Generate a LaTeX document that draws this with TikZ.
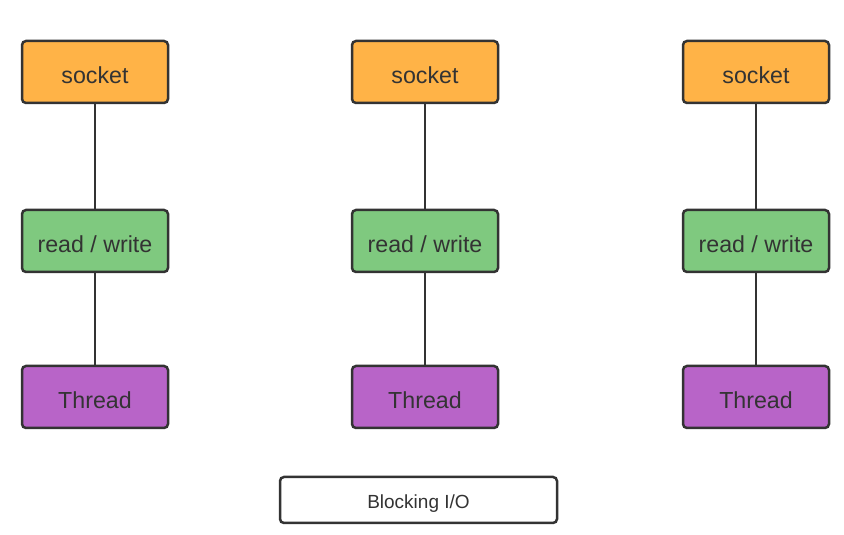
\documentclass[tikz,border=0pt]{standalone}
\usepackage{fontspec}
\setmainfont{Liberation Sans}
\usetikzlibrary{positioning}
\definecolor{sockorange}{HTML}{FFB347}
\definecolor{rwgreen}{HTML}{7FC97F}
\definecolor{thpurple}{HTML}{B864C8}
\definecolor{edgegray}{HTML}{333333}

\begin{document}
\begin{tikzpicture}[
    x=1pt, y=1pt,
    box/.style={rectangle, draw=edgegray, line width=2.5pt, rounded corners=4pt, minimum width=146pt, minimum height=62pt, align=center, text=edgegray, text height=24pt, text depth=0pt, font=\fontsize{23.2}{26}\selectfont},
    link/.style={draw=edgegray, line width=2.7pt}
]
\useasboundingbox (0,0) rectangle (844,535);
% first column
\node[box, fill=sockorange] (sock1) at (95,463) {socket};
\node[box, fill=rwgreen, below=104.5pt of sock1] (rw1) {read / write};
\node[box, fill=thpurple, below=91.5pt of rw1] (th1) {Thread};
% second column
\node[box, fill=sockorange, right=181.5pt of sock1] (sock2) {socket};
\node[box, fill=rwgreen, below=104.5pt of sock2] (rw2) {read / write};
\node[box, fill=thpurple, below=91.5pt of rw2] (th2) {Thread};
% third column
\node[box, fill=sockorange, right=182.5pt of sock2] (sock3) {socket};
\node[box, fill=rwgreen, below=104.5pt of sock3] (rw3) {read / write};
\node[box, fill=thpurple, below=91.5pt of rw3] (th3) {Thread};
% caption
\node[box, fill=white, minimum width=277pt, minimum height=46pt, text height=17pt, font=\fontsize{19}{22}\selectfont] (caption) at (418.5,35) {Blocking I/O};

\draw[link] (sock1) -- (rw1);
\draw[link] (rw1) -- (th1);
\draw[link] (sock2) -- (rw2);
\draw[link] (rw2) -- (th2);
\draw[link] (sock3) -- (rw3);
\draw[link] (rw3) -- (th3);
\end{tikzpicture}
\end{document}
